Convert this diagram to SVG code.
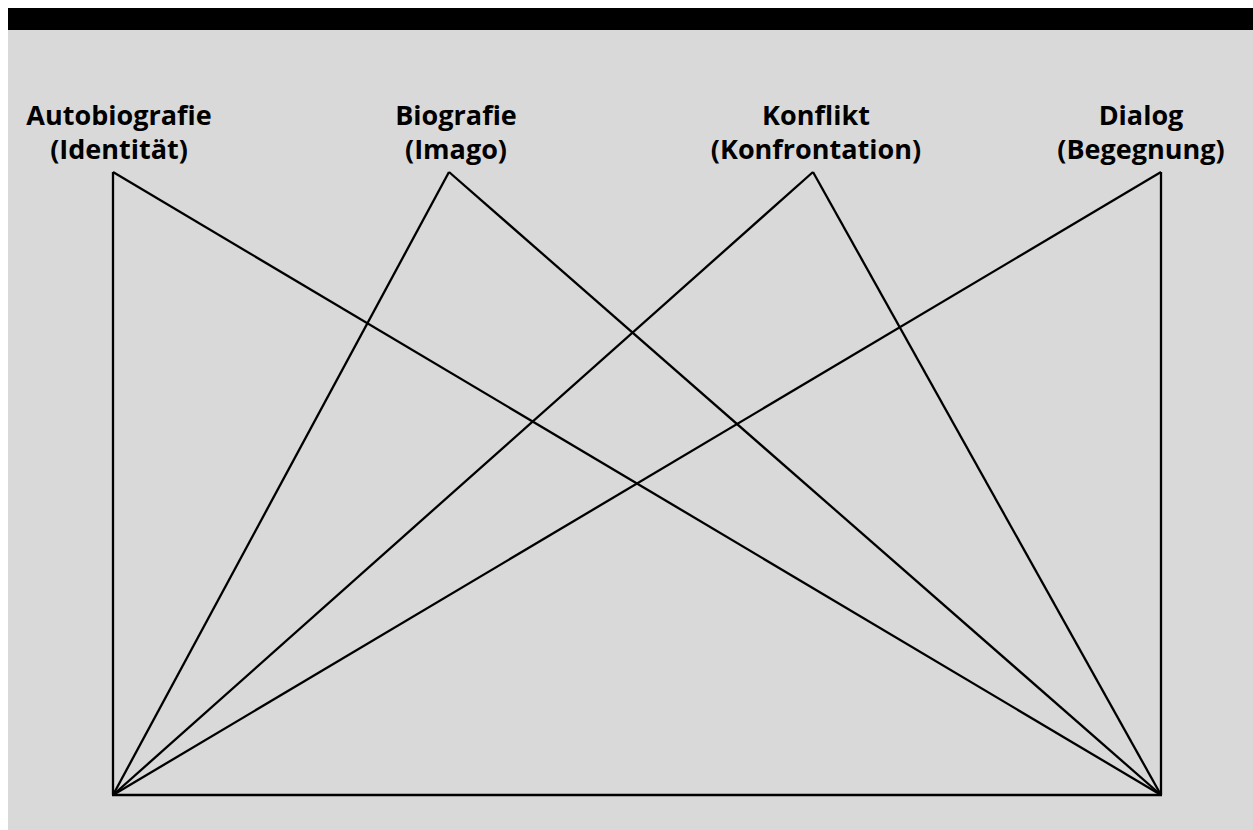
<svg xmlns="http://www.w3.org/2000/svg" width="1253" height="830" viewBox="0 0 1253 830">
<style>
.lbl{font-family:"Open Sans","DejaVu Sans",sans-serif;font-weight:bold;font-size:27px;fill:#000;text-anchor:middle}
.ln{stroke:#000;stroke-width:2.3;fill:none}
</style>
<rect x="0" y="0" width="1253" height="830" fill="#fff"/>
<rect x="8" y="8" width="1245" height="822" fill="#d9d9d9"/>
<rect x="8" y="8" width="1245" height="22" fill="#000"/>
<g id="connectors">
<line class="ln" x1="113" y1="172" x2="113" y2="795"/>
<line class="ln" x1="1161" y1="172" x2="1161" y2="795"/>
<line class="ln" x1="112" y1="795" x2="1162" y2="795" stroke-width="3"/>
<line class="ln" x1="113" y1="172" x2="1161" y2="795"/>
<line class="ln" x1="449" y1="172" x2="113" y2="795"/>
<line class="ln" x1="449" y1="172" x2="1161" y2="795"/>
<line class="ln" x1="813" y1="172" x2="113" y2="795"/>
<line class="ln" x1="813" y1="172" x2="1161" y2="795"/>
<line class="ln" x1="1161" y1="172" x2="113" y2="795"/>
</g>
<g id="autobiografie"><text class="lbl" x="119" y="125">Autobiografie</text><text class="lbl" x="119" y="159">(Identität)</text></g>
<g id="biografie"><text class="lbl" x="456" y="125">Biografie</text><text class="lbl" x="456" y="159">(Imago)</text></g>
<g id="konflikt"><text class="lbl" x="816" y="125">Konflikt</text><text class="lbl" x="816" y="159">(Konfrontation)</text></g>
<g id="dialog"><text class="lbl" x="1141" y="125">Dialog</text><text class="lbl" x="1141" y="159">(Begegnung)</text></g>
</svg>
